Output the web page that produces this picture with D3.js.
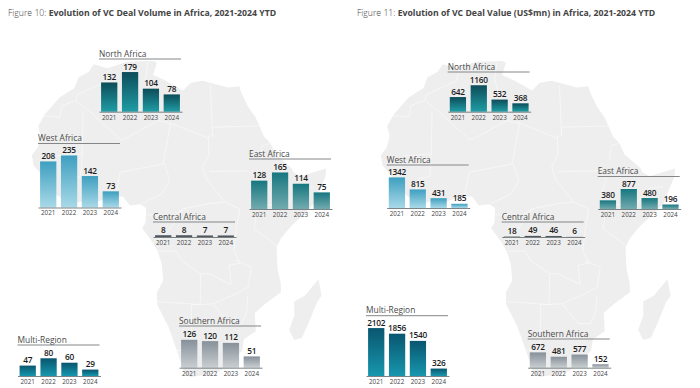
<!DOCTYPE html>
<html>
<head>
<meta charset="utf-8">
<script src="https://cdn.jsdelivr.net/npm/d3@7"></script>
<style>
  html, body { margin: 0; padding: 0; background: #fff; }
  svg { display: block; }
  text { font-family: "Open Sans", sans-serif; }
</style>
</head>
<body>
<svg id="chart" width="700" height="388"></svg>
<script>
// Two small-multiple panels over a map of Africa, one bar group per region.
var years = ['2021', '2022', '2023', '2024'];

var volumeNorth = [132, 179, 104, 78];
var volumeWest = [208, 235, 142, 73];
var volumeEast = [128, 165, 114, 75];
var volumeCentral = [8, 8, 7, 7];
var volumeSouthern = [126, 120, 112, 51];
var volumeMulti = [47, 80, 60, 29];

var valueNorth = [642, 1160, 532, 368];
var valueWest = [1342, 815, 431, 185];
var valueEast = [380, 877, 480, 196];
var valueCentral = [18, 49, 46, 6];
var valueSouthern = [672, 481, 577, 152];
var valueMulti = [2102, 1856, 1540, 326];

// rough lon/lat outline of the continent, clockwise from Tangier
var africaCoast = [
    [-5.9, 35.8], [-2, 35.1], [3, 36.9], [10, 37.3], [11, 36.9], [10.2, 34], [13.2, 32.9], [18, 30.5],
    [20, 32.3], [23, 32.7], [29.5, 31], [32.4, 31.2], [32.6, 29.9], [34, 26.5], [35.6, 24], [37.2, 19.6],
    [38.6, 18], [39.5, 15.6], [43.2, 12.2], [43.3, 11.5], [45, 10.5], [48, 11.2], [51.2, 11.9], [50.9, 10.2],
    [48, 4.5], [45.3, 2], [42.5, -0.4], [40.2, -3], [39.2, -5], [39.3, -7], [39.6, -10], [40.5, -13],
    [40.7, -15], [37, -17.8], [34.9, -19.8], [35.5, -23.9], [32.8, -25.8], [32.6, -28.5], [31, -29.9],
    [28, -33], [25.7, -34], [20, -34.8], [18.4, -34], [16.5, -28.6], [14.5, -23], [12, -18], [12, -15.2],
    [13.5, -12.5], [13.2, -8.8], [12.3, -6], [11.2, -4], [8.8, -0.7], [9.6, 0.6], [9.7, 3.8], [8.4, 4.6],
    [6, 4.3], [4.4, 6.3], [1, 6], [-2, 4.8], [-4, 5.2], [-7.6, 4.4], [-10.8, 6.3], [-13.2, 8.5],
    [-15, 10.9], [-16.8, 12.5], [-17.5, 14.7], [-16.3, 16.5], [-16, 19], [-17, 21], [-15.9, 23.7],
    [-13, 27.7], [-9.7, 30], [-9.2, 32.5], [-6.8, 34]
];
var madagascarCoast = [
    [49.3, -12], [50.4, -15.6], [49.5, -17], [48, -22], [47, -25], [45.2, -25.6], [43.6, -23.4],
    [44.4, -20], [44, -17], [46.4, -15.7], [48, -13.6]
];
var africaBorders = [
    [[-1.2, 35], [-1.5, 32.2], [-8.7, 28.6], [-8.7, 27.3], [-12, 26], [-12, 23.4], [-16, 23.4]],
    [[-8.7, 27.3], [-4.8, 25], [3.3, 19], [4.2, 19.2], [11.9, 23.5], [9.6, 30], [8.3, 33], [8.6, 36.9]],
    [[25, 31.6], [25, 20], [24, 20], [24, 15.7], [22.5, 13], [23.5, 10], [27.4, 5.1], [30.8, 3.5]],
    [[25, 22], [36.8, 22]],
    [[11.9, 23.5], [15, 23], [24, 19.5]],
    [[15, 23], [13.5, 14], [14.2, 12.5], [15, 10], [13.3, 7], [8.8, 4.8]],
    [[3.6, 11.7], [13.5, 13.7]],
    [[3.6, 11.7], [2.7, 6.4]],
    [[-12, 14.8], [-5.5, 15.5], [-5.5, 10.5], [-8, 10], [-8.5, 7.6]],
    [[-5.5, 15.5], [-6.5, 25]],
    [[24, 12], [33, 12], [35, 10], [34, 7.5], [35.9, 4.6], [41, 3.9], [45, 8], [48, 8]],
    [[36, 14.3], [36.5, 17.5], [38.6, 18]],
    [[30.8, 3.5], [30, -1], [29.5, -6], [31, -8.6], [28.5, -9], [29, -13.4], [24, -11], [22, -11], [22, -13], [22, -18], [25, -17.8], [30, -15.6], [33, -14], [33.5, -9.5], [30, -8]],
    [[34, -1], [37.7, -3.5], [39.2, -4.7]],
    [[34, -1], [35, 4.6]],
    [[12.3, -5.9], [16.5, -5.9], [17.7, -8], [22, -11]],
    [[12, -17.3], [22, -18], [20, -18], [20, -28.4], [16.5, -28.6]],
    [[25, -17.8], [29, -22.3], [32, -22.2], [33, -19.5], [33, -16]],
    [[11.2, -4], [14, -2.3], [18, 3.6], [24, 4.8], [27.4, 5.1]],
    [[9.6, 2.2], [16, 2.2], [18, 3.6]]
];

// bar colours per region: [top, bottom]
var regionColors = {
    north: ['#0d4c59', '#1f9da5'],
    west: ['#3e9fc0', '#a8d9e8'],
    east: ['#17767f', '#72abaf'],
    central: ['#50575e', '#50575e'],
    southern: ['#87919a', '#c9ced1'],
    multi: ['#09566f', '#1797ae']
};

// x = left of the rule, rule = rule y, base = baseline y
var volumePanels = [
    {id: 'north', name: 'North Africa', values: volumeNorth, x: 99, rule: 59, base: 111.7},
    {id: 'west', name: 'West Africa', values: volumeWest, x: 38, rule: 143.5, base: 207.5},
    {id: 'east', name: 'East Africa', values: volumeEast, x: 249, rule: 159, base: 209},
    {id: 'central', name: 'Central Africa', values: volumeCentral, x: 153, rule: 222, base: 237},
    {id: 'southern', name: 'Southern Africa', values: volumeSouthern, x: 179, rule: 326, base: 367.7},
    {id: 'multi', name: 'Multi-Region', values: volumeMulti, x: 17.5, rule: 345, base: 376}
];
var valuePanels = [
    {id: 'north', name: 'North Africa', values: valueNorth, x: 447.7, rule: 72, base: 111.7},
    {id: 'west', name: 'West Africa', values: valueWest, x: 386.7, rule: 165, base: 208},
    {id: 'east', name: 'East Africa', values: valueEast, x: 597.7, rule: 176.5, base: 209},
    {id: 'central', name: 'Central Africa', values: valueCentral, x: 501.7, rule: 222, base: 237},
    {id: 'southern', name: 'Southern Africa', values: valueSouthern, x: 527.7, rule: 339, base: 367.7},
    {id: 'multi', name: 'Multi-Region', values: valueMulti, x: 366, rule: 315.7, base: 376}
];

var svg = d3.select('#chart');
var defs = svg.append('defs');

Object.keys(regionColors).forEach(function(id) {
    var grad = defs.append('linearGradient')
        .attr('id', 'grad-' + id)
        .attr('x1', 0).attr('x2', 0).attr('y1', 0).attr('y2', 1);
    grad.append('stop').attr('offset', 0).attr('stop-color', regionColors[id][0]);
    grad.append('stop').attr('offset', 1).attr('stop-color', regionColors[id][1]);
});

function drawMap(offsetX, clipRight, id) {
    var projection = d3.geoAzimuthalEqualArea()
        .rotate([-18, -2])
        .scale(255)
        .translate([183 + offsetX, 216]);
    var path = d3.geoPath(projection);

    defs.append('clipPath').attr('id', id)
        .append('rect')
        .attr('x', offsetX).attr('y', 0)
        .attr('width', clipRight - offsetX).attr('height', 388);

    var map = svg.append('g').attr('clip-path', 'url(#' + id + ')');

    map.selectAll('path.land')
        .data([africaCoast, madagascarCoast])
        .join('path')
        .attr('class', 'land')
        .attr('fill', '#eeeeee')
        .attr('d', function(ring) {
            return path({type: 'Polygon', coordinates: [ring.concat([ring[0]])]});
        });

    // borders are barely visible in the original
    map.append('path')
        .attr('fill', 'none')
        .attr('stroke', '#fbfbfb')
        .attr('stroke-width', 0.6)
        .attr('d', path({type: 'MultiLineString', coordinates: africaBorders}));
}

function drawPanels(panels, pxPerUnit) {
    var group = svg.append('g').selectAll('g.region')
        .data(panels)
        .join('g')
        .attr('class', 'region');

    group.each(function(d) {
        var g = d3.select(this);
        var x = d3.scaleBand()
            .domain(years)
            .range([d.x, d.x + 83])
            .paddingInner(0.22)
            .paddingOuter(0.1);
        var maxV = d3.max(d.values);
        var y = d3.scaleLinear()
            .domain([0, maxV])
            .range([d.base, d.base - maxV * pxPerUnit]);

        g.append('text')
            .attr('x', d.x)
            .attr('y', d.rule - 2.5)
            .attr('font-size', 8.4)
            .attr('font-weight', 400)
            .attr('fill', '#4a4a4a')
            .text(d.name);

        g.append('line')
            .attr('x1', d.x).attr('x2', d.x + 82)
            .attr('y1', d.rule).attr('y2', d.rule)
            .attr('stroke', '#77797b')
            .attr('stroke-width', 0.9);

        g.selectAll('rect')
            .data(d.values)
            .join('rect')
            .attr('x', function(v, i) { return x(years[i]); })
            .attr('width', x.bandwidth())
            .attr('y', function(v) { return y(v); })
            .attr('height', function(v) { return y(0) - y(v); })
            .attr('fill', 'url(#grad-' + d.id + ')');

        g.selectAll('text.val')
            .data(d.values)
            .join('text')
            .attr('class', 'val')
            .attr('x', function(v, i) { return x(years[i]) + x.bandwidth() / 2; })
            .attr('y', function(v) { return y(v) - 2.5; })
            .attr('text-anchor', 'middle')
            .attr('font-size', 8.3)
            .attr('letter-spacing', -0.25)
            .attr('font-weight', 600)
            .attr('fill', '#1c1c1c')
            .text(function(v) { return v; });

        var axis = g.append('g')
            .attr('transform', 'translate(0,' + d.base + ')')
            .call(d3.axisBottom(x).tickSize(0).tickPadding(3.5));
        axis.select('.domain').attr('stroke', '#5c6468').attr('stroke-width', 0.8);
        axis.selectAll('text')
            .attr('font-family', '"Open Sans", sans-serif')
            .attr('font-size', 6.3)
            .attr('fill', '#444');
    });
}

function drawTitle(x, prefix, title) {
    var t = svg.append('text')
        .attr('x', x).attr('y', 16)
        .attr('font-size', 8.7)
        .attr('fill', '#444');
    t.append('tspan').attr('font-weight', 300).text(prefix + ' ');
    t.append('tspan').attr('font-weight', 700).text(title);
}

drawMap(0, 331, 'clip-left');
drawMap(349, 680, 'clip-right');
drawPanels(volumePanels, 0.2215);
drawPanels(valuePanels, 0.0228);
drawTitle(8, 'Figure 10:', 'Evolution of VC Deal Volume in Africa, 2021-2024 YTD');
drawTitle(357, 'Figure 11:', 'Evolution of VC Deal Value (US$mn) in Africa, 2021-2024 YTD');
</script>
</body>
</html>
